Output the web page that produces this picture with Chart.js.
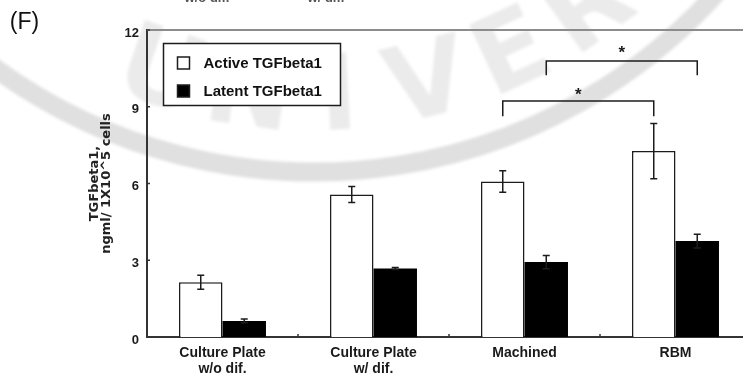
<!DOCTYPE html>
<html>
<head>
<meta charset="utf-8">
<script src="https://cdn.jsdelivr.net/npm/chart.js@4.4.0/dist/chart.umd.min.js"></script>
<style>
  html, body { margin: 0; padding: 0; background: #fff; overflow: hidden; width: 743px; height: 379px; }
  canvas { display: block; }
</style>
</head>
<body>
<canvas id="c" width="752" height="379"></canvas>
<script>
// TGFbeta1 secretion per 1x10^5 cells, mean ± error
const categories = [['Culture Plate', 'w/o dif.'], ['Culture Plate', 'w/ dif.'], 'Machined', 'RBM'];
const seriesNames = ['Active TGFbeta1', 'Latent TGFbeta1'];
const activeValues = [2.14, 5.57, 6.08, 7.27];
const activeErrors = [0.27, 0.31, 0.42, 1.08];
const latentValues = [0.63, 2.68, 2.93, 3.75];
const latentErrors = [0.07, 0.04, 0.26, 0.27];
const yTicks = [0, 3, 6, 9, 12];
const yTitle = ['TGFbeta1,', 'ngml/ 1X10^5 cells'];
const panelLabel = '(F)';
const clippedCaptions = ['w/o dif.', 'w/ dif.'];

// significance brackets between bars of the same series
const bracketSeries = [0, 1];
const bracketFrom = [2, 2];
const bracketTo = [3, 3];
const bracketTop = [9.22, 10.79];
const bracketLegEnd = [8.63, 10.23];
const bracketMark = ['*', '*'];

const errorSets = [activeErrors, latentErrors];
const valueSets = [activeValues, latentValues];
const INK = '#1c1c1c';

const watermark = {
  id: 'watermark',
  beforeDraw(chart) {
    const ctx = chart.ctx;
    const cx = 314, cy = -370;
    ctx.save();
    ctx.filter = 'blur(1.5px)';
    ctx.strokeStyle = 'rgba(0,0,0,0.12)';
    ctx.lineWidth = 19;
    ctx.beginPath();
    ctx.arc(cx, cy, 542, 0.2 * Math.PI, 0.78 * Math.PI);
    ctx.stroke();
    const word = 'UNIVERSITY';
    ctx.fillStyle = 'rgba(0,0,0,0.08)';
    ctx.font = 'bold 105px "DejaVu Sans"';
    ctx.textAlign = 'center';
    ctx.textBaseline = 'alphabetic';
    for (let i = 0; i < word.length; i++) {
      const phi = (-19 + 11 * i) * Math.PI / 180;
      const x = cx + 500 * Math.sin(phi);
      const y = cy + 500 * Math.cos(phi);
      ctx.save();
      ctx.translate(x, y);
      ctx.rotate(-phi);
      ctx.fillText(word[i], 0, 0);
      ctx.restore();
    }
    ctx.restore();
  }
};

const frame = {
  id: 'frame',
  afterDraw(chart) {
    const ctx = chart.ctx;
    const a = chart.chartArea;
    const xs = chart.scales.x, ys = chart.scales.y;
    ctx.save();
    // top edge of the plotting box
    ctx.strokeStyle = '#8c8c8c';
    ctx.lineWidth = 2;
    ctx.beginPath();
    ctx.moveTo(a.left, a.top);
    ctx.lineTo(a.right, a.top);
    ctx.stroke();
    // small inward tick marks
    ctx.strokeStyle = '#333';
    ctx.lineWidth = 1.5;
    yTicks.forEach(v => {
      const y = ys.getPixelForValue(v);
      ctx.beginPath();
      ctx.moveTo(a.left, y);
      ctx.lineTo(a.left + 3, y);
      ctx.stroke();
    });
    for (let i = 0; i < categories.length - 1; i++) {
      const x = (xs.getPixelForValue(i) + xs.getPixelForValue(i + 1)) / 2;
      ctx.beginPath();
      ctx.moveTo(x, a.bottom);
      ctx.lineTo(x, a.bottom - 3);
      ctx.stroke();
    }
    // panel letter and the captions cut off at the top edge
    ctx.fillStyle = '#111';
    ctx.font = '23px "Liberation Sans"';
    ctx.textAlign = 'center';
    ctx.textBaseline = 'middle';
    ctx.fillText(panelLabel, 24.5, 23);
    ctx.fillStyle = '#555';
    ctx.font = 'bold 13px "Liberation Sans"';
    ctx.textBaseline = 'alphabetic';
    ctx.fillText(clippedCaptions[0], 207, 1.5);
    ctx.fillText(clippedCaptions[1], 326, 1.5);
    ctx.restore();
  }
};

const errorBars = {
  id: 'errorBars',
  afterDatasetsDraw(chart) {
    const ctx = chart.ctx;
    const ys = chart.scales.y;
    ctx.save();
    ctx.strokeStyle = INK;
    ctx.lineWidth = 1.5;
    chart.data.datasets.forEach((ds, di) => {
      const meta = chart.getDatasetMeta(di);
      meta.data.forEach((bar, i) => {
        const v = valueSets[di][i], e = errorSets[di][i];
        const yHi = ys.getPixelForValue(v + e);
        const yLo = ys.getPixelForValue(v - e);
        const x = bar.x, cap = 3.5;
        ctx.beginPath();
        ctx.moveTo(x, yHi); ctx.lineTo(x, yLo);
        ctx.moveTo(x - cap, yHi); ctx.lineTo(x + cap, yHi);
        ctx.moveTo(x - cap, yLo); ctx.lineTo(x + cap, yLo);
        ctx.stroke();
      });
    });
    ctx.restore();
  }
};

const brackets = {
  id: 'brackets',
  afterDraw(chart) {
    const ctx = chart.ctx;
    const ys = chart.scales.y;
    ctx.save();
    ctx.strokeStyle = INK;
    ctx.lineWidth = 1.5;
    ctx.fillStyle = INK;
    ctx.font = 'bold 17px "Liberation Sans"';
    ctx.textAlign = 'center';
    ctx.textBaseline = 'middle';
    for (let k = 0; k < bracketSeries.length; k++) {
      const meta = chart.getDatasetMeta(bracketSeries[k]);
      const x1 = meta.data[bracketFrom[k]].x;
      const x2 = meta.data[bracketTo[k]].x;
      const yT = ys.getPixelForValue(bracketTop[k]);
      const yL = ys.getPixelForValue(bracketLegEnd[k]);
      ctx.beginPath();
      ctx.moveTo(x1, yL); ctx.lineTo(x1, yT); ctx.lineTo(x2, yT); ctx.lineTo(x2, yL);
      ctx.stroke();
      ctx.fillText(bracketMark[k], (x1 + x2) / 2, yT - 6 - 2 * k);
    }
    ctx.restore();
  }
};

const boxLegend = {
  id: 'boxLegend',
  afterDraw(chart) {
    const ctx = chart.ctx;
    const a = chart.chartArea;
    const left = a.left + 16.5, top = a.top + 13.5, w = 177, h = 62;
    ctx.save();
    ctx.fillStyle = '#fff';
    ctx.fillRect(left, top, w, h);
    ctx.strokeStyle = INK;
    ctx.lineWidth = 1.5;
    ctx.strokeRect(left, top, w, h);
    chart.data.datasets.forEach((ds, i) => {
      const cy = top + 19.5 + i * 28;
      const sx = left + 14, s = 12;
      ctx.fillStyle = ds.backgroundColor;
      ctx.fillRect(sx, cy - s / 2, s, s);
      ctx.strokeStyle = INK;
      ctx.lineWidth = 1.5;
      ctx.strokeRect(sx, cy - s / 2, s, s);
      ctx.fillStyle = '#111';
      ctx.font = 'bold 15px "Liberation Sans"';
      ctx.textAlign = 'left';
      ctx.textBaseline = 'middle';
      ctx.fillText(ds.label, left + 40, cy + 0.5);
    });
    ctx.restore();
  }
};

new Chart(document.getElementById('c'), {
  type: 'bar',
  data: {
    labels: categories,
    datasets: [
      { label: seriesNames[0], data: activeValues, backgroundColor: '#ffffff', borderColor: INK, borderWidth: 1.5 },
      { label: seriesNames[1], data: latentValues, backgroundColor: '#000000', borderColor: '#000000', borderWidth: 0 }
    ]
  },
  options: {
    responsive: false,
    maintainAspectRatio: false,
    devicePixelRatio: 1,
    animation: false,
    categoryPercentage: 0.576,
    barPercentage: 1.0,
    layout: { padding: { left: 89, top: 30, right: 1, bottom: 0 } },
    plugins: { legend: { display: false }, tooltip: { enabled: false }, title: { display: false } },
    scales: {
      x: {
        grid: { display: false, drawTicks: false },
        border: { display: true, color: '#333', width: 2 },
        ticks: {
          color: '#1a1a1a', padding: 8, maxRotation: 0, autoSkip: false,
          font: { family: '"Liberation Sans"', size: 14, weight: 'bold', lineHeight: 1.15 }
        },
        afterFit(s) { s.height = 42; }
      },
      y: {
        min: 0, max: 12,
        afterBuildTicks(s) { s.ticks = yTicks.map(v => ({ value: v })); },
        grid: { display: false, drawTicks: false },
        border: { display: true, color: '#333', width: 2 },
        ticks: {
          color: '#1a1a1a', padding: 8, labelOffset: 3,
          font: { family: '"Liberation Sans"', size: 13, weight: 'bold' }
        },
        title: {
          display: true, text: yTitle, color: '#222', padding: 0,
          font: { family: '"DejaVu Sans"', size: 13, weight: 'bold', lineHeight: 0.92 }
        },
        afterFit(s) { s.width = 58; }
      }
    }
  },
  plugins: [watermark, errorBars, frame, brackets, boxLegend]
});
</script>
</body>
</html>
